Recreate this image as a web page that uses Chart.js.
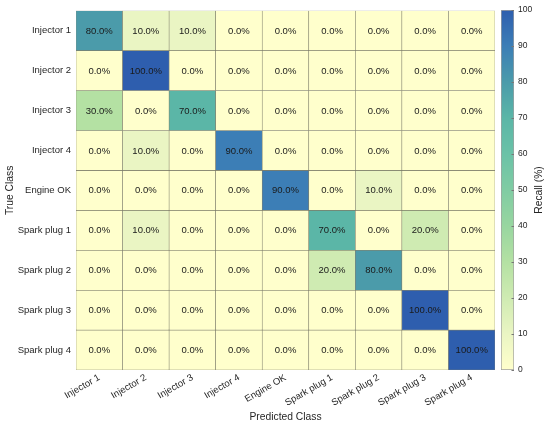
<!DOCTYPE html>
<html>
<head>
<meta charset="utf-8">
<script src="https://cdn.jsdelivr.net/npm/chart.js@4"></script>
<style>
  html, body { margin: 0; padding: 0; background: #fff; }
  #wrap { position: relative; width: 550px; height: 427px; }
  #main { position: absolute; left: 0; top: 0; }
  #cbar { position: absolute; left: 495px; top: 0; }
</style>
</head>
<body>
<div id="wrap">
  <canvas id="main" width="550" height="427"></canvas>
  <canvas id="cbar" width="55" height="427"></canvas>
</div>
<script>
const trueClasses = ['Injector 1','Injector 2','Injector 3','Injector 4','Engine OK','Spark plug 1','Spark plug 2','Spark plug 3','Spark plug 4'];
const predictedClasses = ['Injector 1','Injector 2','Injector 3','Injector 4','Engine OK','Spark plug 1','Spark plug 2','Spark plug 3','Spark plug 4'];
const recallInjector1 = [80,10,10,0,0,0,0,0,0];
const recallInjector2 = [0,100,0,0,0,0,0,0,0];
const recallInjector3 = [30,0,70,0,0,0,0,0,0];
const recallInjector4 = [0,10,0,90,0,0,0,0,0];
const recallEngineOK = [0,0,0,0,90,0,10,0,0];
const recallSparkPlug1 = [0,10,0,0,0,70,0,20,0];
const recallSparkPlug2 = [0,0,0,0,0,20,80,0,0];
const recallSparkPlug3 = [0,0,0,0,0,0,0,100,0];
const recallSparkPlug4 = [0,0,0,0,0,0,0,0,100];
const colorbarTicks = [0,10,20,30,40,50,60,70,80,90,100];

const recall = [recallInjector1, recallInjector2, recallInjector3, recallInjector4, recallEngineOK,
                recallSparkPlug1, recallSparkPlug2, recallSparkPlug3, recallSparkPlug4];

// colormap stops (value, color)
const cmap = [
  [0, [255,255,204]], [10, [234,245,195]], [20, [207,235,178]], [30, [180,225,163]],
  [40, [152,214,160]], [50, [128,204,163]], [60, [107,194,167]], [70, [91,182,167]],
  [80, [75,155,170]], [90, [60,126,182]], [100, [46,94,174]]
];
function colorFor(v) {
  for (let k = 0; k < cmap.length - 1; k++) {
    const [v0, c0] = cmap[k], [v1, c1] = cmap[k + 1];
    if (v <= v1) {
      const t = (v - v0) / (v1 - v0);
      const c = c0.map((x, i) => Math.round(x + (c1[i] - x) * t));
      return `rgb(${c[0]},${c[1]},${c[2]})`;
    }
  }
  const c = cmap[cmap.length - 1][1];
  return `rgb(${c[0]},${c[1]},${c[2]})`;
}

const FONT = "'Liberation Sans', Arial, sans-serif";
const TXT = '#262626';

const datasets = recall.map((row, i) => ({
  label: trueClasses[i],
  data: row.map(() => [i, i + 1]),
  backgroundColor: row.map(colorFor),
  borderColor: 'rgba(120,120,100,0.9)',
  borderWidth: 0.6,
  borderSkipped: false,
  grouped: false,
  barPercentage: 1,
  categoryPercentage: 1
}));

const cellText = {
  id: 'cellText',
  afterDatasetsDraw(chart) {
    const ctx = chart.ctx;
    ctx.save();
    ctx.font = `9.5px ${FONT}`;
    ctx.fillStyle = '#1a1a1a';
    ctx.textAlign = 'center';
    ctx.textBaseline = 'middle';
    recall.forEach((row, i) => {
      const meta = chart.getDatasetMeta(i);
      meta.data.forEach((bar, j) => {
        const p = bar.getCenterPoint();
        ctx.fillText(row[j].toFixed(1) + '%', p.x, p.y + 0.5);
      });
    });
    ctx.restore();
  }
};

new Chart(document.getElementById('main'), {
  type: 'bar',
  data: { labels: predictedClasses, datasets },
  options: {
    responsive: false,
    animation: false,
    layout: { padding: { top: 10, right: 55, left: 0, bottom: 0 } },
    plugins: { legend: { display: false }, tooltip: { enabled: false } },
    scales: {
      x: {
        type: 'category',
        grid: { display: false, drawTicks: false, tickLength: 0 },
        border: { display: false },
        ticks: { color: TXT, font: { family: FONT, size: 9.5 }, maxRotation: 30, minRotation: 30, padding: 2 },
        title: { display: true, text: 'Predicted Class', color: TXT, font: { family: FONT, size: 10.3 } },
        afterFit(scale) { scale.height = 57; }
      },
      y: {
        type: 'linear',
        min: 0, max: 9,
        reverse: true,
        grid: { display: false, drawTicks: false, tickLength: 0 },
        border: { display: false },
        afterBuildTicks(scale) { scale.ticks = trueClasses.map((_, i) => ({ value: i + 0.5 })); },
        ticks: {
          color: TXT, font: { family: FONT, size: 9.5 }, padding: 5,
          callback: (v) => trueClasses[Math.floor(v)]
        },
        title: { display: true, text: 'True Class', color: TXT, font: { family: FONT, size: 10.3 } },
        afterFit(scale) { scale.width = 76; }
      }
    }
  },
  plugins: [cellText]
});

const cbarExtras = {
  id: 'cbarExtras',
  afterDraw(chart) {
    const ctx = chart.ctx;
    const y = chart.scales.y;
    const a = chart.chartArea;
    ctx.save();
    ctx.strokeStyle = '#777';
    ctx.lineWidth = 1;
    colorbarTicks.forEach(v => {
      const py = Math.round(y.getPixelForValue(v)) + 0.5;
      ctx.beginPath();
      ctx.moveTo(a.right - 2.5, py);
      ctx.lineTo(a.right, py);
      ctx.stroke();
    });
    ctx.font = `10.3px ${FONT}`;
    ctx.fillStyle = TXT;
    ctx.textAlign = 'center';
    ctx.textBaseline = 'middle';
    ctx.translate(44, (a.top + a.bottom) / 2);
    ctx.rotate(-Math.PI / 2);
    ctx.fillText('Recall (%)', 0, 0);
    ctx.restore();
  }
};

new Chart(document.getElementById('cbar'), {
  type: 'bar',
  data: {
    labels: ['Recall'],
    datasets: [{
      data: [[colorbarTicks[0], colorbarTicks[colorbarTicks.length - 1]]],
      backgroundColor(context) {
        const chart = context.chart;
        const a = chart.chartArea;
        if (!a) return 'rgba(0,0,0,0)';
        const g = chart.ctx.createLinearGradient(0, a.bottom, 0, a.top);
        cmap.forEach(([v, c]) => g.addColorStop(v / 100, `rgb(${c[0]},${c[1]},${c[2]})`));
        return g;
      },
      borderColor: '#a0a0a0',
      borderWidth: 1,
      borderSkipped: false,
      barPercentage: 1,
      categoryPercentage: 1
    }]
  },
  options: {
    responsive: false,
    animation: false,
    layout: { padding: { top: 10, bottom: 57, left: 6, right: 0 } },
    plugins: { legend: { display: false }, tooltip: { enabled: false } },
    scales: {
      x: { display: false },
      y: {
        position: 'right',
        min: 0, max: 100,
        afterBuildTicks(scale) { scale.ticks = colorbarTicks.map(v => ({ value: v })); },
        grid: { display: false, drawTicks: false, tickLength: 0 },
        border: { display: false },
        ticks: { color: TXT, font: { family: FONT, size: 8.5 }, padding: 4 },
        afterFit(scale) { scale.width = 36; }
      }
    }
  },
  plugins: [cbarExtras]
});
</script>
</body>
</html>
